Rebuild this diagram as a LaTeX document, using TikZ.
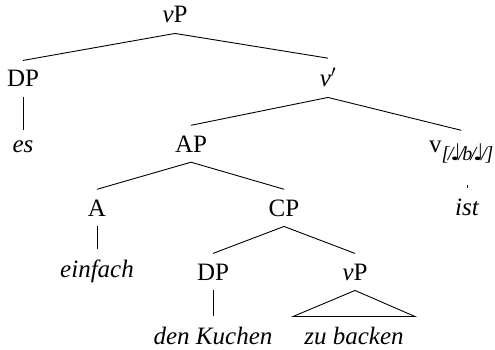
\documentclass[tikz,border=0pt]{standalone}
\usepackage{fontspec}
\setmainfont{Liberation Serif}
\newfontfamily\notesym{DejaVu Sans}
\newcommand{\qnote}{{\notesym\fontsize{23}{23}\selectfont ♩}}
\begin{document}
\begin{tikzpicture}[x=1pt,y=-1pt,
  font=\fontsize{25}{30}\selectfont,
  cat/.style={inner ysep=10pt, inner xsep=0pt, anchor=base},
  leaf/.style={cat, font=\fontsize{25}{30}\selectfont\itshape},
  edge/.style={line width=0.9pt, black},
]
\useasboundingbox (0,0) rectangle (495,350);

% nodes
\node[cat] (vp) at (175,23) {\textit{v}P};
\node[cat] (dp) at (23,87) {DP};
\node[cat] (vbar) at (328,87) {\textit{v}$'$};
\node[leaf] (es) at (23,152) {es};
\node[cat] (ap) at (191,152) {AP};
\node[cat, anchor=base west] (vhead) at (429,152)
  {v\raisebox{-9pt}{\fontsize{20}{20}\selectfont\itshape
   [\kern-.08em/\kern-.15em\qnote\kern-.15em/\kern-.08em b\kern-.08em/\kern-.15em\qnote\kern-.15em/\kern-.05em]}};
\node[leaf] (ist) at (467,215) {ist};
\node[cat] (a) at (97,216) {A};
\node[cat] (cp) at (284,216) {CP};
\node[leaf] (einfach) at (97,277) {einfach};
\node[cat] (dp2) at (213,280) {DP};
\node[cat] (vp2) at (355,280) {\textit{v}P};
\node[leaf] (kuchen) at (213,344) {den Kuchen};
\node[leaf, inner xsep=11pt] (backen) at (354,344) {zu backen};

% branches
\draw[edge] (vp.south) -- (dp.north);
\draw[edge] (vp.south) -- (vbar.north);
\draw[edge] (dp.south) -- (es.north);
\draw[edge] (vbar.south) -- (ap.north);
\draw[edge] (vbar.south) -- (vhead.north);
\draw[edge] (ist.north) -- ++(0,-3);
\draw[edge] (ap.south) -- (a.north);
\draw[edge] (ap.south) -- (cp.north);
\draw[edge] (a.south) -- (einfach.north);
\draw[edge] (cp.south) -- (dp2.north);
\draw[edge] (cp.south) -- (vp2.north);
\draw[edge] (dp2.south) -- (kuchen.north);
% roof over the unanalysed vP
\draw[edge, line join=miter] (vp2.south) -- (backen.north west) -- (backen.north east) -- cycle;
\end{tikzpicture}
\end{document}
